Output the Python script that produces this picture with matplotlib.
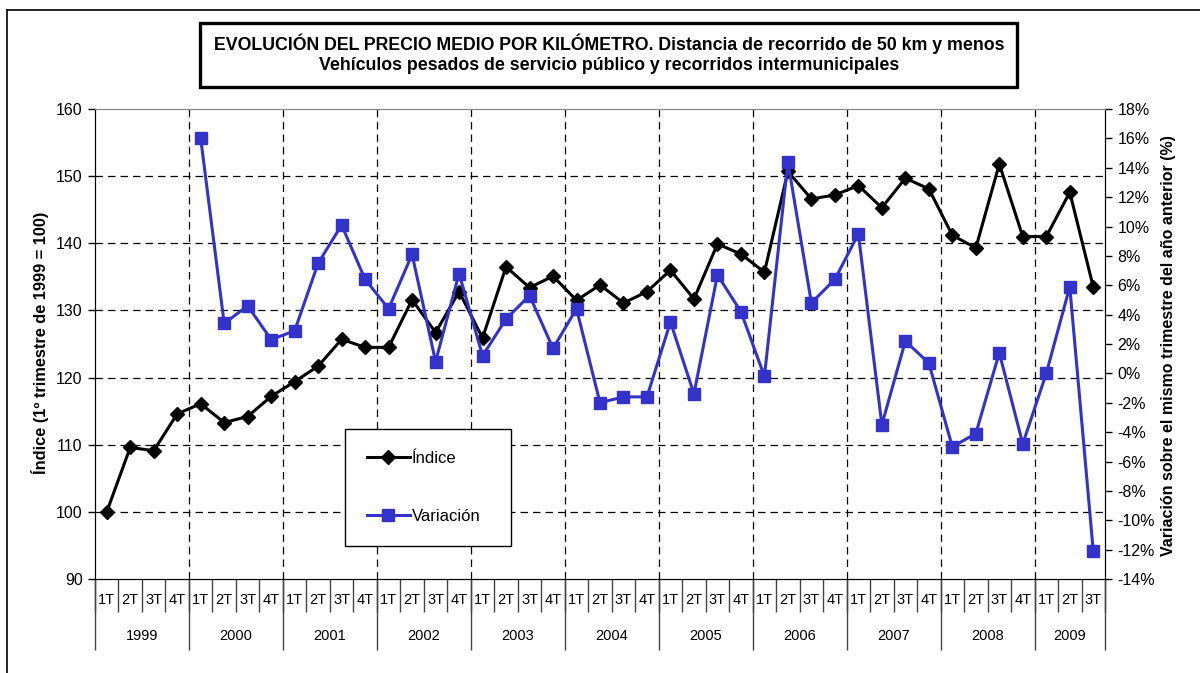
import numpy as np
import matplotlib
matplotlib.use("Agg")
import matplotlib.pyplot as plt
from matplotlib.lines import Line2D
from matplotlib.patches import Rectangle
from matplotlib import transforms

plt.rcParams['font.family'] = ['Liberation Sans', 'DejaVu Sans']

years = ['1999', '2000', '2001', '2002', '2003', '2004', '2005', '2006', '2007', '2008', '2009']
quarters_per_year = [4, 4, 4, 4, 4, 4, 4, 4, 4, 4, 3]
quarter_names = ['1T', '2T', '3T', '4T']

indice = [100.0, 109.6, 109.1, 114.6,
          116.1, 113.3, 114.2, 117.2,
          119.4, 121.7, 125.7, 124.5,
          124.5, 131.6, 126.7, 132.8,
          125.9, 136.5, 133.4, 135.1,
          131.5, 133.8, 131.1, 132.8,
          136.0, 131.7, 139.9, 138.4,
          135.7, 150.7, 146.6, 147.2,
          148.6, 145.3, 149.7, 148.1,
          141.2, 139.3, 151.8, 141.0,
          141.0, 147.6, 133.5]

variacion = [np.nan, np.nan, np.nan, np.nan,
             16.0, 3.4, 4.6, 2.3,
             2.9, 7.5, 10.1, 6.4,
             4.4, 8.1, 0.8, 6.8,
             1.2, 3.7, 5.3, 1.7,
             4.4, -2.0, -1.6, -1.6,
             3.5, -1.4, 6.7, 4.2,
             -0.2, 14.4, 4.8, 6.4,
             9.5, -3.5, 2.2, 0.7,
             -5.0, -4.1, 1.4, -4.8,
             0.0, 5.9, -12.1]

quarter_labels = []
for n in quarters_per_year:
    quarter_labels += quarter_names[:n]
x = np.arange(len(quarter_labels))

W, H = 1200, 673
fig = plt.figure(figsize=(W / 100, H / 100), dpi=100)

def fx(px):
    return px / W

def fy(py):
    return 1 - py / H

ax = fig.add_axes([fx(95), fy(579), fx(1010), 470 / H])
ax2 = ax.twinx()

# outer frame (clipped by the image on the right and bottom)
fig.add_artist(Line2D([fx(7), 1], [fy(10), fy(10)], color='black', lw=1.2))
fig.add_artist(Line2D([fx(7), fx(7)], [fy(10), 0], color='black', lw=1.2))

# title box
fig.add_artist(Rectangle((fx(200), fy(87)), fx(817), (87 - 23) / H, transform=fig.transFigure,
                         fill=False, edgecolor='black', lw=2.4))
fig.text(fx(609), fy(44), 'EVOLUCIÓN DEL PRECIO MEDIO POR KILÓMETRO. Distancia de recorrido de 50 km y menos',
         ha='center', va='center', fontsize=12.8, fontweight='bold')
fig.text(fx(609), fy(66), 'Vehículos pesados de servicio público y recorridos intermunicipales',
         ha='center', va='center', fontsize=12.8, fontweight='bold')

# series
l1, = ax.plot(x, indice, color='black', lw=2.2, marker='D', markersize=7, label='Índice', zorder=3)
l2, = ax2.plot(x, variacion, color='#3333CC', lw=2.2, marker='s', markersize=8.5, label='Variación', zorder=3)

ax.set_xlim(-0.5, len(x) - 0.5)
ax.set_ylim(90, 160)
ax.set_yticks(np.arange(90, 161, 10))
ax2.set_ylim(-14, 18)
ax2.set_yticks(np.arange(-14, 19, 2))
ax2.set_yticklabels([f'{v}%' for v in range(-14, 19, 2)])

for a in (ax, ax2):
    a.tick_params(axis='y', direction='out', length=5, width=1, labelsize=11.5, pad=4)
    a.spines['top'].set_color('#888888')
ax.tick_params(axis='x', length=0, labelbottom=False)
ax2.tick_params(axis='x', length=0, labelbottom=False)

# grid
for v in range(100, 160, 10):
    ax.axhline(v, color='black', lw=0.9, ls=(0, (6, 4)), zorder=1)
year_starts = np.cumsum([0] + quarters_per_year)
for b in year_starts[1:-1]:
    ax.axvline(b - 0.5, color='black', lw=0.9, ls=(0, (6, 4)), zorder=1)

# category axis
trans = transforms.blended_transform_factory(ax.transData, ax.transAxes)
ax.vlines(np.arange(len(x) + 1) - 0.5, -33 / 470, 0, transform=trans, colors='#444444',
          lw=1, clip_on=False)
ax.vlines(year_starts - 0.5, -71 / 470, 0, transform=trans, colors='#444444',
          lw=1, clip_on=False)
for i, q in enumerate(quarter_labels):
    ax.text(i, -21 / 470, q, transform=trans, ha='center', va='center', fontsize=10.5)
for k, y in enumerate(years):
    c = (year_starts[k] + year_starts[k + 1] - 1) / 2
    ax.text(c, -57 / 470, y, transform=trans, ha='center', va='center', fontsize=10.5)

# axis labels
fig.text(fx(40), fy(343), 'Índice (1º trimestre de 1999 = 100)', rotation=90,
         ha='center', va='center', fontsize=11.8, fontweight='bold')
fig.text(fx(1168), fy(346), 'Variación sobre el mismo trimestre del año anterior (%)', rotation=90,
         ha='center', va='center', fontsize=11.5, fontweight='bold')

# legend
leg = ax2.legend(handles=[l1, l2], loc='upper left', mode='expand',
                 bbox_to_anchor=(fx(345), fy(543), fx(166), 114 / H), bbox_transform=fig.transFigure,
                 frameon=True, fancybox=False, edgecolor='black', framealpha=1,
                 fontsize=12, handlelength=2.6, handletextpad=0.1,
                 labelspacing=2.6, borderpad=1.3, borderaxespad=0)
leg.get_frame().set_linewidth(1)

fig.savefig('out.png', dpi=100, facecolor='white')
